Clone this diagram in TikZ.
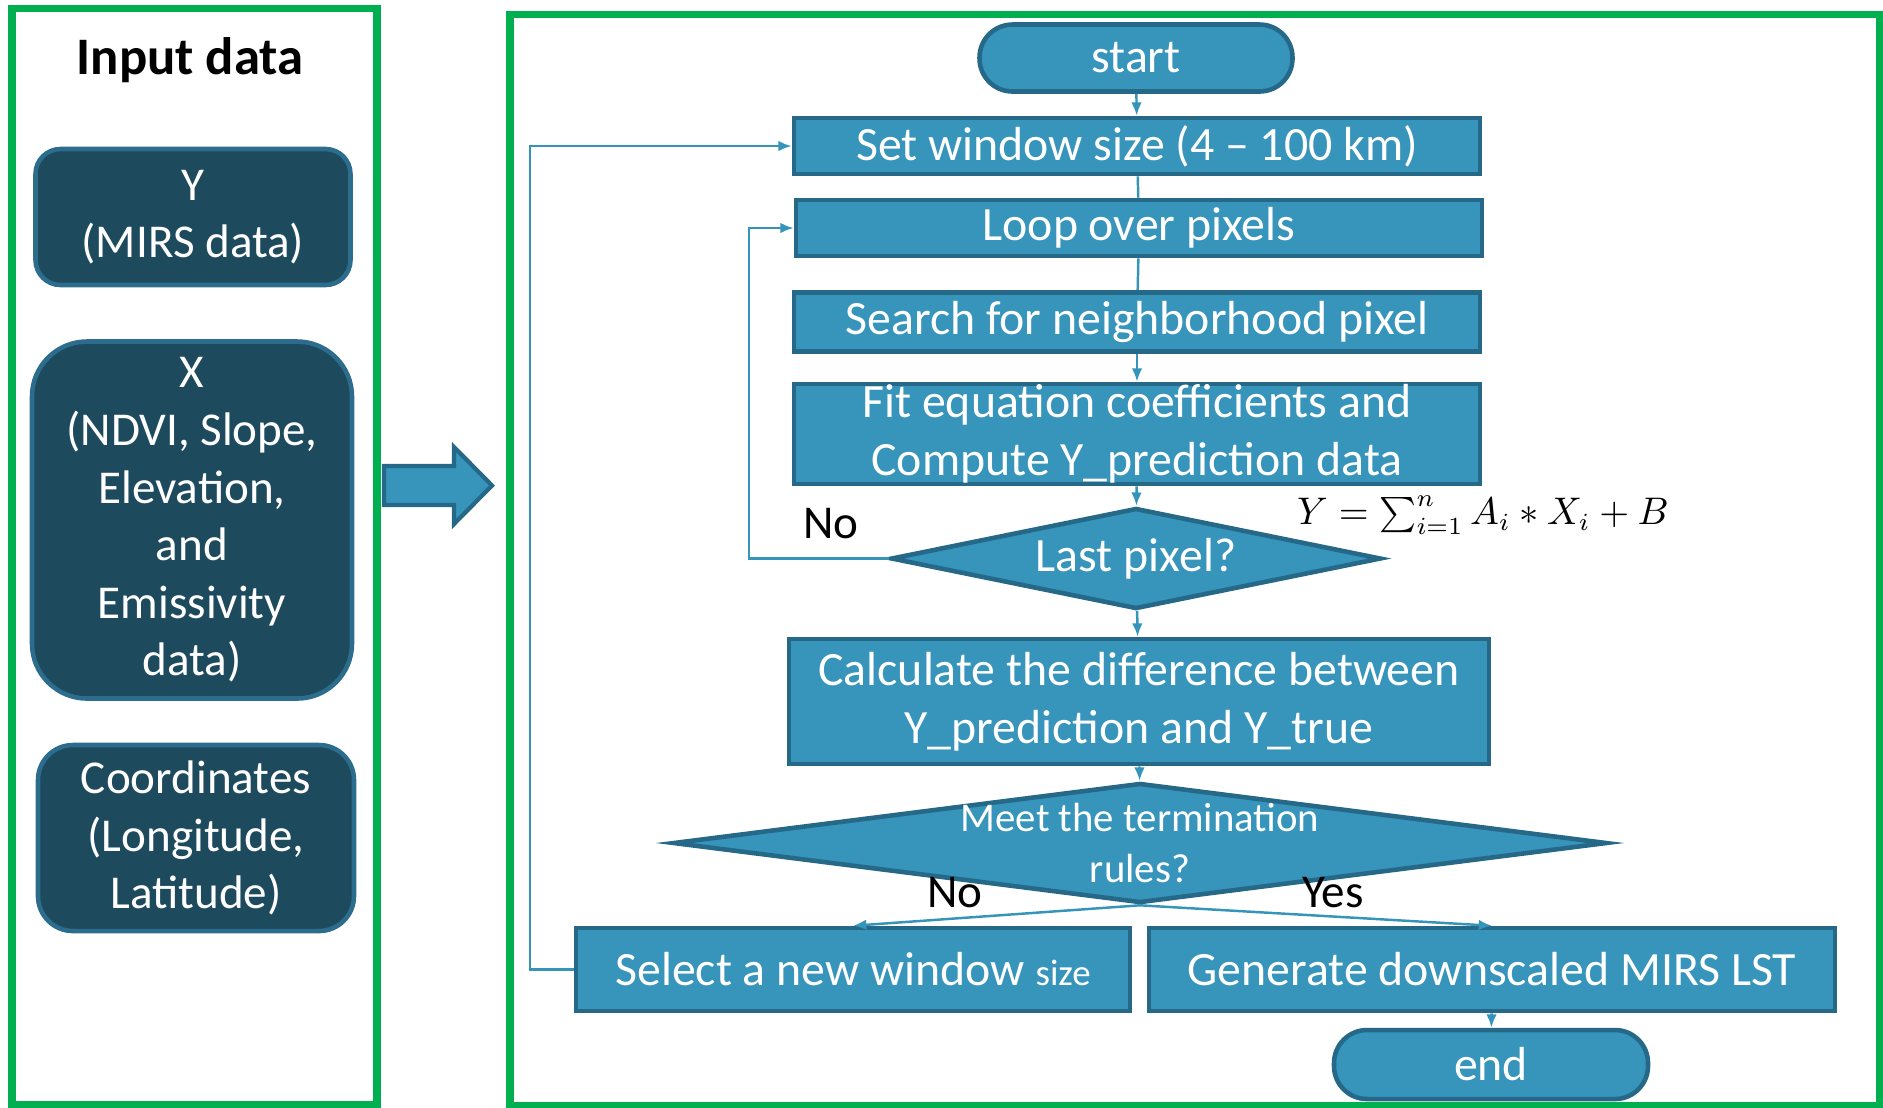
\documentclass[tikz,border=0pt]{standalone}
\usepackage{fontspec}
\setmainfont{Carlito}
\usepackage{xcolor}
\usepackage{tikz}
\usetikzlibrary{shapes,arrows,positioning,calc,arrows.meta}

\definecolor{panelgreen}{HTML}{00B050}
\definecolor{boxfill}{HTML}{3794BB}
\definecolor{boxdraw}{HTML}{256887}
\definecolor{darkfill}{HTML}{1E4A5E}
\definecolor{darkdraw}{HTML}{2C6C8C}
\definecolor{linkcol}{HTML}{3494BA}

\begin{document}
\begin{tikzpicture}[
    panel/.style={rectangle, draw=panelgreen, line width=2pt, inner sep=0pt},
    block/.style={rectangle, draw=boxdraw, fill=boxfill, line width=1.3pt, text=white, inner sep=0pt, align=center, font=\fontsize{13.6}{16.5}\selectfont},
    term/.style={block, rounded corners=0.33cm},
    decision/.style={diamond, draw=boxdraw, fill=boxfill, line width=1.3pt, text=white, inner sep=0pt, align=center, font=\fontsize{13.6}{16.5}\selectfont},
    inbox/.style={rectangle, draw=darkdraw, fill=darkfill, line width=1.3pt, text=white, inner sep=0pt, align=center, font=\fontsize{13.4}{16.4}\selectfont},
    lbl/.style={text=black, inner sep=0pt, font=\fontsize{13.4}{16.5}\selectfont},
    arrow/.style={draw=linkcol, line width=0.7pt, -{Latex[length=3.8pt,width=3pt]}},
    link/.style={draw=linkcol, line width=0.7pt}
]
    \useasboundingbox (0,0) rectangle (18.83,-11.07);

    % input panel
    \node[panel, minimum width=3.65cm, minimum height=10.96cm] (inpanel) at (1.945, -5.56) {};
    \node[lbl, font=\fontsize{15}{18}\selectfont\bfseries] (intitle) at (1.90, -0.60) {Input data};
    \node[inbox, rounded corners=0.25cm, minimum width=3.15cm, minimum height=1.36cm] (Y) at (1.93, -2.17) {Y\\(MIRS data)};
    \node[inbox, rounded corners=0.55cm, minimum width=3.20cm, minimum height=3.57cm] (X) at (1.92, -5.20) {X\\(NDVI, Slope,\\Elevation,\\and\\Emissivity\\data)};
    \node[inbox, rounded corners=0.35cm, minimum width=3.16cm, minimum height=1.86cm] (coord) at (1.96, -8.38) {Coordinates\\(Longitude,\\Latitude)};

    \draw[draw=boxdraw, fill=boxfill, line width=1.2pt] (3.84,-4.66) -- (4.54,-4.66) -- (4.54,-4.47) -- (4.92,-4.855) -- (4.54,-5.24) -- (4.54,-5.05) -- (3.84,-5.05) -- cycle;

    % flowchart panel
    \node[panel, minimum width=13.69cm, minimum height=10.91cm] (flowpanel) at (11.945, -5.595) {};

    \node[term, minimum width=3.13cm, minimum height=0.67cm] (start) at (11.36, -0.58) {start};
    \node[block, minimum width=6.86cm, minimum height=0.56cm] (set) at (11.37, -1.46) {Set window size (4 – 100 km)};
    \node[block, minimum width=6.86cm, minimum height=0.56cm] (loop) at (11.39, -2.28) {Loop over pixels};
    \node[block, minimum width=6.86cm, minimum height=0.59cm] (search) at (11.37, -3.22) {Search for neighborhood pixel};
    \node[block, minimum width=6.86cm, minimum height=1.00cm] (fit) at (11.37, -4.34) {Fit equation coefficients and\\Compute Y\_prediction data};
    \node[decision, aspect=4.85, minimum width=4.90cm, minimum height=1.01cm] (last) at (11.36, -5.585) {Last pixel?};
    \node[block, minimum width=7.00cm, minimum height=1.25cm] (calc) at (11.39, -7.015) {Calculate the difference between\\Y\_prediction and Y\_true};
    \node[decision, aspect=7.8, minimum width=9.34cm, minimum height=1.20cm] (meet) at (11.40, -8.43) {};
    \node[text=white, align=center, inner sep=0pt, font=\fontsize{11.6}{14.6}\selectfont] (meettxt) at (11.40, -8.43) {Meet the termination\\rules?};
    \node[block, minimum width=5.54cm, minimum height=0.83cm] (select) at (8.53, -9.695) {Select a new window {\fontsize{10.5}{12}\selectfont size}};
    \node[block, minimum width=6.86cm, minimum height=0.83cm] (gen) at (14.92, -9.695) {Generate downscaled MIRS LST};
    \node[term, minimum width=3.14cm, minimum height=0.69cm] (end) at (14.91, -10.645) {end};

    \node[lbl] (nolast) at (8.31, -5.24) {No};
    \node[lbl] (nomeet) at (9.55, -8.93) {No};
    \node[lbl] (yesmeet) at (13.33, -8.93) {Yes};
    \node[lbl, font=\fontsize{10.5}{12}\selectfont] (formula) at (14.83, -5.15) {$Y = \sum_{i=1}^{n} A_i \ast X_i + B$};

    \coordinate (innerx) at (7.49, 0);
    \coordinate (outerx) at (5.30, 0);

    \draw[arrow] (start) -- (set);
    \draw[link] (set) -- (loop);
    \draw[link] (loop) -- (search);
    \draw[arrow] (search) -- (fit);
    \draw[arrow] (fit) -- (last);
    \draw[arrow] (last) -- (calc);
    \draw[arrow] (calc) -- (meet);
    \draw[arrow] (meet.south) -- (select.north);
    \draw[arrow] (meet.south) -- (gen.north);
    \draw[arrow] (gen) -- (end);
    \draw[arrow] (last.west) -- (last.west -| innerx) |- (loop.west);
    \draw[arrow] (select.west) -- (select.west -| outerx) |- (set.west);

\end{tikzpicture}
\end{document}
